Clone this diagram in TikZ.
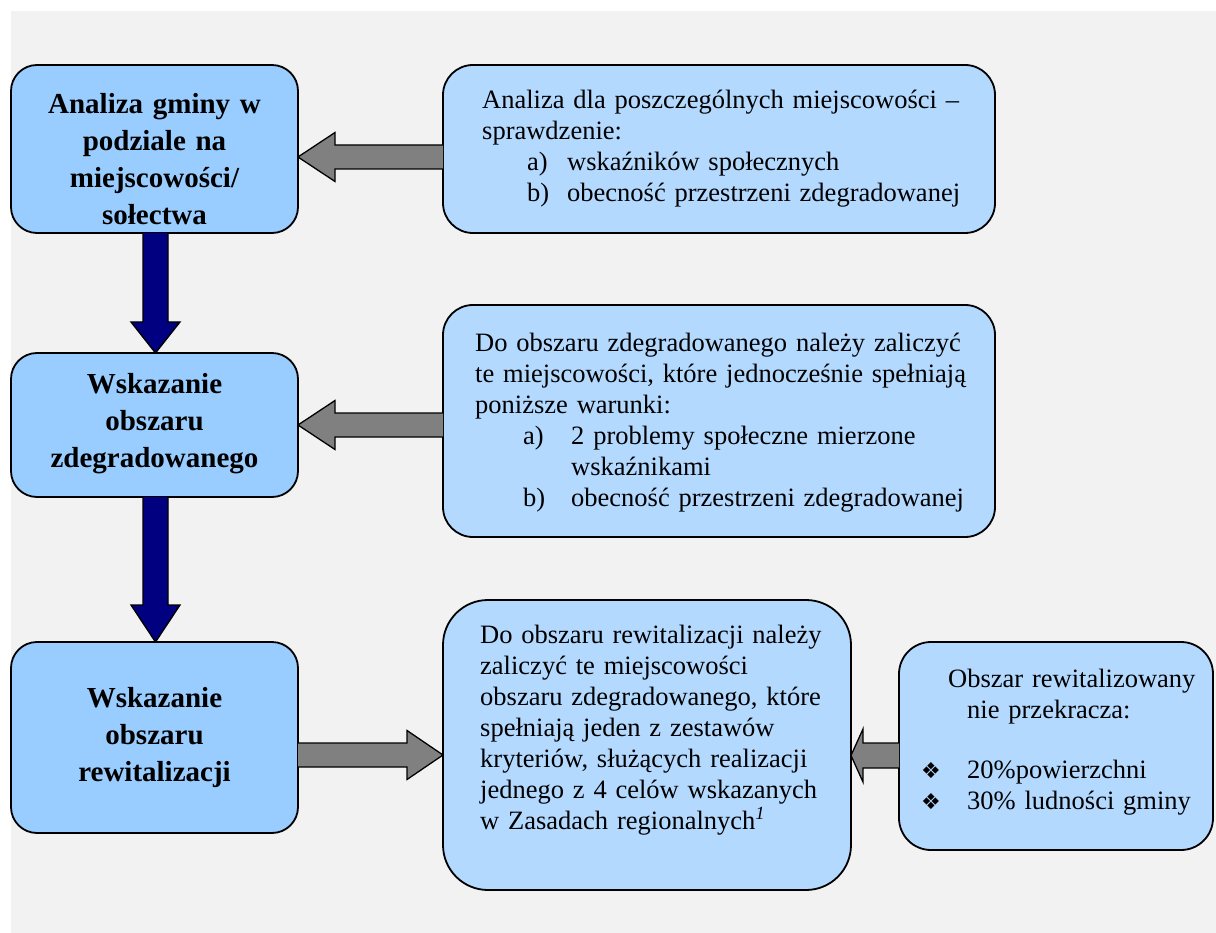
\documentclass[tikz,border=0pt]{standalone}
\usepackage{fontspec}
\setmainfont{Liberation Serif}
\newfontfamily\symfont{DejaVu Sans}
\usetikzlibrary{calc}
\definecolor{bgcol}{HTML}{F2F2F2}
\definecolor{lboxcol}{HTML}{99CCFF}
\definecolor{rboxcol}{HTML}{B3D9FF}
\definecolor{navycol}{HTML}{000080}
\definecolor{graycol}{HTML}{808080}
\begin{document}
\begin{tikzpicture}[x=1pt,y=-1pt,
  boxshape/.style={draw=black, line width=1.8pt, rounded corners=#1, inner sep=0pt, outer sep=0pt},
  boxshape/.default=26pt,
  lbox/.style={boxshape=26pt, fill=lboxcol, minimum width=287pt},
  rbox/.style={boxshape=#1, fill=rboxcol},
  ltext/.style={font=\fontsize{29}{37}\selectfont\bfseries, align=center, text width=280pt, inner sep=0pt},
  rtext/.style={font=\fontsize{26.5}{31}\selectfont, align=left, text width=560pt, inner sep=0pt, anchor=base west},
  narrowstyle/.style={fill=navycol, draw=black, line width=1.3pt, line join=miter},
  garrowstyle/.style={fill=graycol, draw=black, line width=1.3pt, line join=miter}
]
% background
\fill[white] (0,0) rectangle (1216,933);
\fill[bgcol] (11,11) rectangle (1216,933);
\useasboundingbox (0,0) rectangle (1216,933);

% boxes
\node[lbox, minimum height=168pt] (l1) at (154.5,149) {};
\node[lbox, minimum height=144pt] (l2) at (154.5,425) {};
\node[lbox, minimum height=191pt] (l3) at (154.5,737.5) {};
\node[rbox=30pt, minimum width=552pt, minimum height=168pt] (r1) at (719,149) {};
\node[rbox=30pt, minimum width=552pt, minimum height=232pt] (r2) at (719,421) {};
\node[rbox=45pt, minimum width=408pt, minimum height=290pt] (r3) at (647,745) {};
\node[rbox=32pt, minimum width=314pt, minimum height=208pt] (r4) at (1056,746) {};

% texts
\node[ltext] (l1t) at (154.5,159) {Analiza gminy w\\ podziale na\\ miejscowości/\\ sołectwa};
\node[ltext] (l2t) at (154.5,424) {Wskazanie\\ obszaru\\ zdegradowanego};
\node[ltext] (l3t) at (154.5,738) {Wskazanie\\ obszaru\\ rewitalizacji};

\node[rtext] (r1t) at (482,109) {Analiza dla poszczególnych miejscowości –\\
sprawdzenie:\\
\hspace*{45pt}\makebox[40pt][l]{a)}wskaźników społecznych\\
\hspace*{45pt}\makebox[40pt][l]{b)}obecność przestrzeni zdegradowanej};

\node[rtext] (r2t) at (475,352) {Do obszaru zdegradowanego należy zaliczyć\\
te miejscowości, które jednocześnie spełniają\\
poniższe warunki:\\
\hspace*{48pt}\makebox[48pt][l]{a)}2 problemy społeczne mierzone\\
\hspace*{96pt}wskaźnikami\\
\hspace*{48pt}\makebox[48pt][l]{b)}obecność przestrzeni zdegradowanej};

\node[rtext] (r3t) at (480,643) {Do obszaru rewitalizacji należy\\
zaliczyć te miejscowości\\
obszaru zdegradowanego, które\\
spełniają jeden z zestawów\\
kryteriów, służących realizacji\\
jednego z 4 celów wskazanych\\
w Zasadach regionalnych\textsuperscript{\textit{1}}};

\node[rtext] (r4t) at (921,687) {\hspace*{27pt}Obszar rewitalizowany\\
\hspace*{46pt}nie przekracza:\\[29pt]
\makebox[46pt][l]{\symfont\fontsize{22}{22}\selectfont ❖}20\%powierzchni\\
\makebox[46pt][l]{\symfont\fontsize{22}{22}\selectfont ❖}30\% ludności gminy};

% navy down arrows
\draw[narrowstyle] let \p1=($(l1.south)+(1,0)$), \p2=(l2.north) in
  (\x1-12.5pt,\y1) -- (\x1-12.5pt,\y2+31pt) -- (\x1-24.5pt,\y2+31pt) -- (\x1,\y2)
  -- (\x1+24.5pt,\y2+31pt) -- (\x1+12.5pt,\y2+31pt) -- (\x1+12.5pt,\y1);
\draw[narrowstyle] let \p1=($(l2.south)+(1,0)$), \p2=(l3.north) in
  (\x1-12.5pt,\y1) -- (\x1-12.5pt,\y2+37pt) -- (\x1-24.5pt,\y2+37pt) -- (\x1,\y2)
  -- (\x1+24.5pt,\y2+37pt) -- (\x1+12.5pt,\y2+37pt) -- (\x1+12.5pt,\y1);

% gray arrows
\draw[garrowstyle] let \p1=($(l1.east)+(0,8)$), \p2=(r1.west) in
  (\x2,\y1+12pt) -- (\x1+37pt,\y1+12pt) -- (\x1+37pt,\y1+24.5pt) -- (\x1,\y1)
  -- (\x1+37pt,\y1-24.5pt) -- (\x1+37pt,\y1-12pt) -- (\x2,\y1-12pt);
\draw[garrowstyle] let \p1=(l2.east), \p2=(r2.west) in
  (\x2,\y1+12pt) -- (\x1+37pt,\y1+12pt) -- (\x1+37pt,\y1+24.5pt) -- (\x1,\y1)
  -- (\x1+37pt,\y1-24.5pt) -- (\x1+37pt,\y1-12pt) -- (\x2,\y1-12pt);
\draw[garrowstyle] let \p1=(l3.east), \p2=($(r3.west)+(0,10)$) in
  (\x1,\y2+12pt) -- (\x2-36pt,\y2+12pt) -- (\x2-36pt,\y2+24.5pt) -- (\x2,\y2)
  -- (\x2-36pt,\y2-24.5pt) -- (\x2-36pt,\y2-12pt) -- (\x1,\y2-12pt);
\draw[garrowstyle] let \p1=($(r3.east)+(0,10.5)$), \p2=(r4.west) in
  (\x2,\y1+12.5pt) -- (\x1+12pt,\y1+12.5pt) -- (\x1+12pt,\y1+26.5pt) -- (\x1,\y1)
  -- (\x1+12pt,\y1-26.5pt) -- (\x1+12pt,\y1-12.5pt) -- (\x2,\y1-12.5pt);
\end{tikzpicture}
\end{document}
